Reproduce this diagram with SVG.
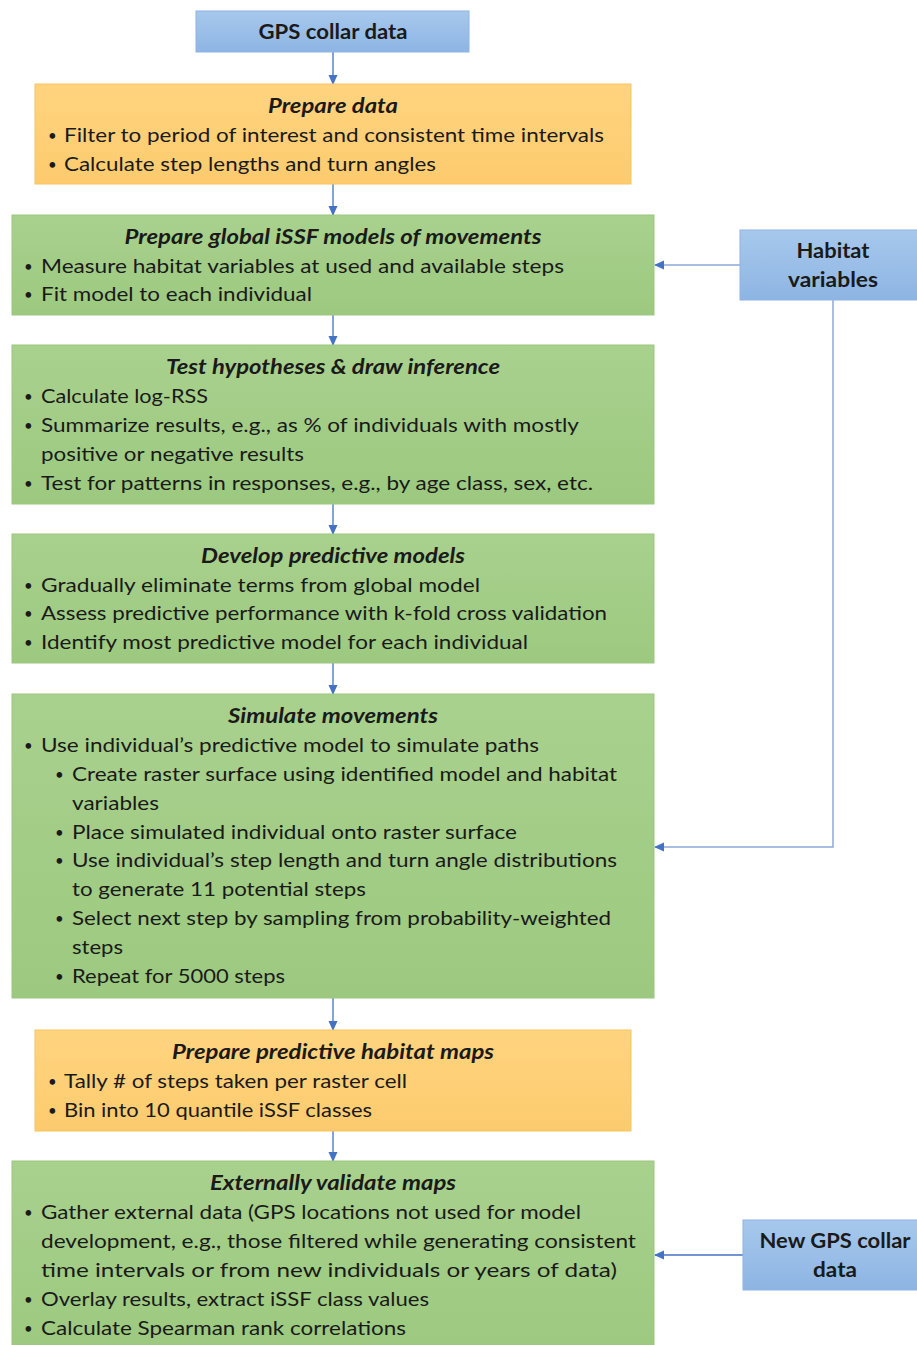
<svg xmlns="http://www.w3.org/2000/svg" width="917" height="1345" viewBox="0 0 917 1345">
<defs>
<linearGradient id="gGreen" x1="0" y1="0" x2="0" y2="1">
<stop offset="0" stop-color="#a9d18e"/><stop offset="1" stop-color="#9cc97f"/>
</linearGradient>
<linearGradient id="gOrange" x1="0" y1="0" x2="0" y2="1">
<stop offset="0" stop-color="#ffd47f"/><stop offset="1" stop-color="#fdcb6e"/>
</linearGradient>
<linearGradient id="gBlue" x1="0" y1="0" x2="0" y2="1">
<stop offset="0" stop-color="#a7c8ec"/><stop offset="1" stop-color="#8db5e3"/>
</linearGradient>
<marker id="ah" markerWidth="10" markerHeight="10" refX="9" refY="5" orient="auto" markerUnits="userSpaceOnUse">
<path d="M0,0.5 L10,5 L0,9.5 Z" fill="#4472c4"/>
</marker>
<style>
text{font-family:Lato,"Open Sans","Liberation Sans",sans-serif;font-size:20px;fill:#1a1a1a}
text.u{font-size:15px}
.t{font-weight:bold;font-style:italic;text-anchor:middle}
.b{font-weight:bold;text-anchor:middle}
.green{fill:url(#gGreen);stroke:#9bc57f;stroke-width:1}
.orange{fill:url(#gOrange);stroke:#f5c460;stroke-width:1}
.blue{fill:url(#gBlue);stroke:#8fb4e3;stroke-width:1}
.c{fill:none;stroke:#4472c4;stroke-width:1.3}
.c2{fill:none;stroke:#8ea9db;stroke-width:1.5}
</style>
</defs>
<rect width="917" height="1345" fill="#ffffff"/>

<g id="connectors">
<line class="c" x1="333" y1="52" x2="333" y2="84" marker-end="url(#ah)"/>
<line class="c" x1="333" y1="184" x2="333" y2="215" marker-end="url(#ah)"/>
<line class="c" x1="333" y1="315" x2="333" y2="345" marker-end="url(#ah)"/>
<line class="c" x1="333" y1="504" x2="333" y2="534" marker-end="url(#ah)"/>
<line class="c" x1="333" y1="663" x2="333" y2="694" marker-end="url(#ah)"/>
<line class="c" x1="333" y1="998" x2="333" y2="1030" marker-end="url(#ah)"/>
<line class="c" x1="333" y1="1131" x2="333" y2="1161" marker-end="url(#ah)"/>
<line class="c2" x1="740" y1="265" x2="655" y2="265" marker-end="url(#ah)"/>
<polyline class="c2" points="833,300 833,847 655,847" marker-end="url(#ah)"/>
<line class="c" x1="743" y1="1255" x2="655" y2="1255" marker-end="url(#ah)"/>
</g>

<g id="gps">
<rect class="blue" x="196" y="11" width="273" height="41"/>
<text class="b" x="333" y="39" textLength="149" lengthAdjust="spacingAndGlyphs">GPS collar data</text>
</g>

<g id="prepare-data">
<rect class="orange" x="35" y="84" width="596" height="100"/>
<text class="t" x="333" y="113" textLength="130" lengthAdjust="spacingAndGlyphs">Prepare data</text>
<text class="u" x="48" y="141">•</text><text x="64" y="142" textLength="540" lengthAdjust="spacingAndGlyphs">Filter to period of interest and consistent time intervals</text>
<text class="u" x="48" y="170">•</text><text x="64" y="171" textLength="372" lengthAdjust="spacingAndGlyphs">Calculate step lengths and turn angles</text>
</g>

<g id="global-models">
<rect class="green" x="12" y="215" width="642" height="100"/>
<text class="t" x="333" y="244" textLength="417" lengthAdjust="spacingAndGlyphs">Prepare global iSSF models of movements</text>
<text class="u" x="24" y="272">•</text><text x="41" y="273" textLength="523" lengthAdjust="spacingAndGlyphs">Measure habitat variables at used and available steps</text>
<text class="u" x="24" y="300">•</text><text x="41" y="301" textLength="271" lengthAdjust="spacingAndGlyphs">Fit model to each individual</text>
</g>

<g id="habitat">
<rect class="blue" x="740" y="230" width="180" height="70"/>
<text class="b" x="833" y="258" textLength="73" lengthAdjust="spacingAndGlyphs">Habitat</text>
<text class="b" x="833" y="287" textLength="90" lengthAdjust="spacingAndGlyphs">variables</text>
</g>

<g id="test-hypotheses">
<rect class="green" x="12" y="345" width="642" height="159"/>
<text class="t" x="333" y="374" textLength="334" lengthAdjust="spacingAndGlyphs">Test hypotheses &amp; draw inference</text>
<text class="u" x="24" y="402">•</text><text x="41" y="403" textLength="167" lengthAdjust="spacingAndGlyphs">Calculate log-RSS</text>
<text class="u" x="24" y="431">•</text><text x="41" y="432" textLength="538" lengthAdjust="spacingAndGlyphs">Summarize results, e.g., as % of individuals with mostly</text>
<text x="41" y="461" textLength="263" lengthAdjust="spacingAndGlyphs">positive or negative results</text>
<text class="u" x="24" y="489">•</text><text x="41" y="490" textLength="552" lengthAdjust="spacingAndGlyphs">Test for patterns in responses, e.g., by age class, sex, etc.</text>
</g>

<g id="predictive-models">
<rect class="green" x="12" y="534" width="642" height="129"/>
<text class="t" x="333" y="563" textLength="264" lengthAdjust="spacingAndGlyphs">Develop predictive models</text>
<text class="u" x="24" y="591">•</text><text x="41" y="592" textLength="439" lengthAdjust="spacingAndGlyphs">Gradually eliminate terms from global model</text>
<text class="u" x="24" y="619">•</text><text x="41" y="620" textLength="566" lengthAdjust="spacingAndGlyphs">Assess predictive performance with k-fold cross validation</text>
<text class="u" x="24" y="648">•</text><text x="41" y="649" textLength="487" lengthAdjust="spacingAndGlyphs">Identify most predictive model for each individual</text>
</g>

<g id="simulate">
<rect class="green" x="12" y="694" width="642" height="304"/>
<text class="t" x="333" y="723" textLength="210" lengthAdjust="spacingAndGlyphs">Simulate movements</text>
<text class="u" x="24" y="751">•</text><text x="41" y="752" textLength="498" lengthAdjust="spacingAndGlyphs">Use individual’s predictive model to simulate paths</text>
<text class="u" x="55" y="780">•</text><text x="72" y="781" textLength="545" lengthAdjust="spacingAndGlyphs">Create raster surface using identified model and habitat</text>
<text x="72" y="810" textLength="87" lengthAdjust="spacingAndGlyphs">variables</text>
<text class="u" x="55" y="838">•</text><text x="72" y="839" textLength="445" lengthAdjust="spacingAndGlyphs">Place simulated individual onto raster surface</text>
<text class="u" x="55" y="866">•</text><text x="72" y="867" textLength="545" lengthAdjust="spacingAndGlyphs">Use individual’s step length and turn angle distributions</text>
<text x="72" y="896" textLength="294" lengthAdjust="spacingAndGlyphs">to generate 11 potential steps</text>
<text class="u" x="55" y="924">•</text><text x="72" y="925" textLength="539" lengthAdjust="spacingAndGlyphs">Select next step by sampling from probability-weighted</text>
<text x="72" y="954" textLength="51" lengthAdjust="spacingAndGlyphs">steps</text>
<text class="u" x="55" y="982">•</text><text x="72" y="983" textLength="213" lengthAdjust="spacingAndGlyphs">Repeat for 5000 steps</text>
</g>

<g id="habitat-maps">
<rect class="orange" x="35" y="1030" width="596" height="101"/>
<text class="t" x="333" y="1059" textLength="322" lengthAdjust="spacingAndGlyphs">Prepare predictive habitat maps</text>
<text class="u" x="48" y="1087">•</text><text x="64" y="1088" textLength="343" lengthAdjust="spacingAndGlyphs">Tally # of steps taken per raster cell</text>
<text class="u" x="48" y="1116">•</text><text x="64" y="1117" textLength="308" lengthAdjust="spacingAndGlyphs">Bin into 10 quantile iSSF classes</text>
</g>

<g id="validate">
<rect class="green" x="12" y="1161" width="642" height="190"/>
<text class="t" x="333" y="1190" textLength="246" lengthAdjust="spacingAndGlyphs">Externally validate maps</text>
<text class="u" x="24" y="1218">•</text><text x="41" y="1219" textLength="540" lengthAdjust="spacingAndGlyphs">Gather external data (GPS locations not used for model</text>
<text x="41" y="1248" textLength="595" lengthAdjust="spacingAndGlyphs">development, e.g., those filtered while generating consistent</text>
<text x="41" y="1277" textLength="576" lengthAdjust="spacingAndGlyphs">time intervals or from new individuals or years of data)</text>
<text class="u" x="24" y="1305">•</text><text x="41" y="1306" textLength="388" lengthAdjust="spacingAndGlyphs">Overlay results, extract iSSF class values</text>
<text class="u" x="24" y="1334">•</text><text x="41" y="1335" textLength="365" lengthAdjust="spacingAndGlyphs">Calculate Spearman rank correlations</text>
</g>

<g id="new-gps">
<rect class="blue" x="743" y="1220" width="180" height="70"/>
<text class="b" x="835" y="1248" textLength="151" lengthAdjust="spacingAndGlyphs">New GPS collar</text>
<text class="b" x="835" y="1277" textLength="44" lengthAdjust="spacingAndGlyphs">data</text>
</g>
</svg>
